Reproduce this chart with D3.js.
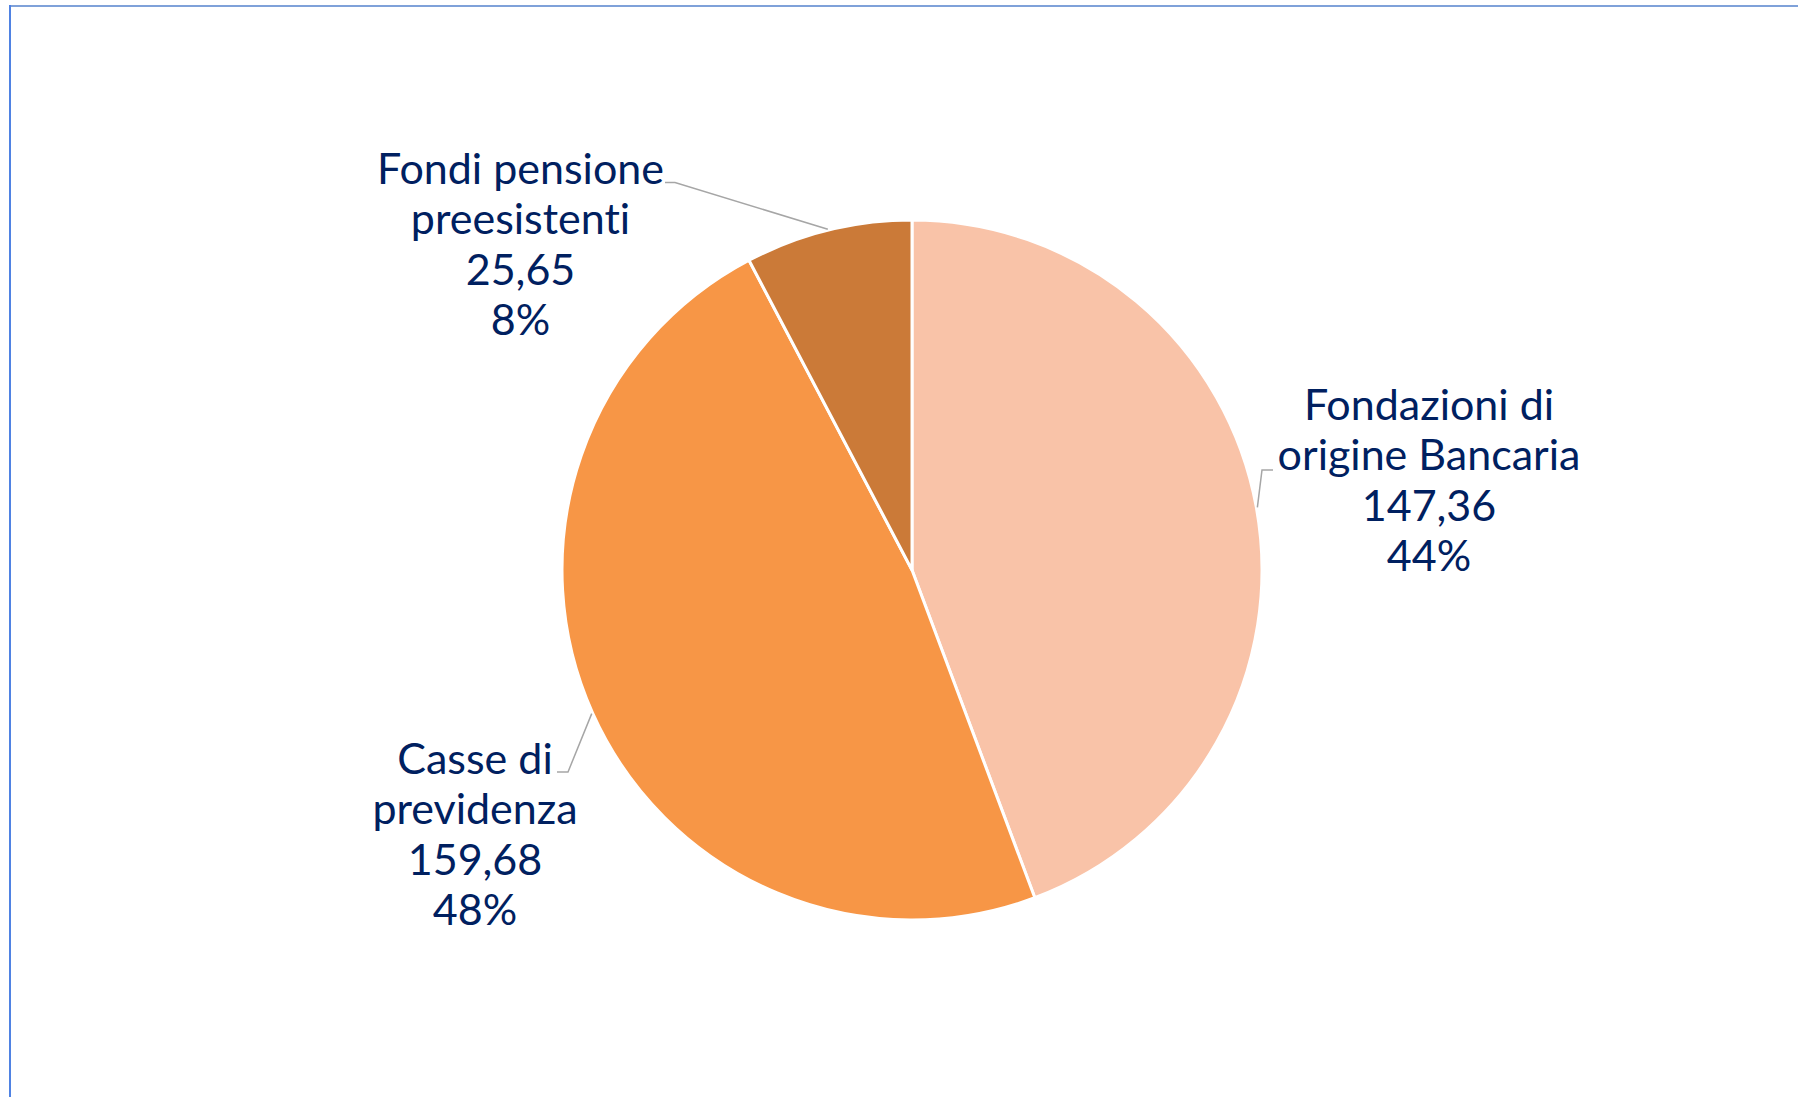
<!DOCTYPE html>
<html>
<head>
<meta charset="utf-8">
<script src="https://cdn.jsdelivr.net/npm/d3@7"></script>
<style>
  body { margin: 0; background: #fff; }
  svg { display: block; }
  .lbl { font-family: Lato, "Open Sans", sans-serif; font-size: 43px; fill: #002060; font-variant-ligatures: none; }
</style>
</head>
<body>
<svg id="chart" width="1798" height="1097"></svg>
<script>
// data
const categories = ["Fondazioni di origine Bancaria", "Casse di previdenza", "Fondi pensione preesistenti"];
const labelLines = [["Fondazioni di", "origine Bancaria"], ["Casse di", "previdenza"], ["Fondi pensione", "preesistenti"]];
const values = [147.36, 159.68, 25.65];
const colors = ["#f9c3a8", "#f79646", "#cb7a38"];

// label placement (layout only)
const labelLayout = [
    {cx: 1429, y0: 419.5, hx: [1273, 1262], hy: 470},
    {cx: 475, y0: 773.5, hx: [557, 568], hy: 772},
    {cx: 520.5, y0: 183.5, hx: [665, 675], hy: 182.5}
];

const width = 1798, height = 1097;
const cx = 912, cy = 570, radius = 350;
const lineGap = 50.5;

const svg = d3.select("#chart");

// frame lines
svg.append("line")
    .attr("x1", 9).attr("x2", width).attr("y1", 6).attr("y2", 6)
    .attr("stroke", "#7fa1d9").attr("stroke-width", 2);
svg.append("line")
    .attr("x1", 10).attr("x2", 10).attr("y1", 5).attr("y2", height)
    .attr("stroke", "#4f82e3").attr("stroke-width", 2);

const total = d3.sum(values);
const pie = d3.pie().sort(null).value(d => d)(values);
const arc = d3.arc().innerRadius(0).outerRadius(radius);

const g = svg.append("g").attr("transform", `translate(${cx},${cy})`);

g.selectAll("path")
    .data(pie)
    .enter().append("path")
    .attr("d", arc)
    .attr("fill", (d, i) => colors[i])
    .attr("stroke", "#fff")
    .attr("stroke-width", 3)
    .attr("stroke-linejoin", "round");

const fmt = v => v.toFixed(2).replace(".", ",");

pie.forEach((d, i) => {
    const lay = labelLayout[i];
    const mid = (d.startAngle + d.endAngle) / 2;
    const r = radius + 1;
    const px = cx + r * Math.sin(mid);
    const py = cy - r * Math.cos(mid);

    // leader line
    svg.append("polyline")
        .attr("points", [[lay.hx[0], lay.hy], [lay.hx[1], lay.hy], [px, py]].map(p => p.join(",")).join(" "))
        .attr("fill", "none")
        .attr("stroke", "#a6a6a6")
        .attr("stroke-width", 1.5);

    const lines = labelLines[i].concat([fmt(values[i]), Math.round(values[i] / total * 100) + "%"]);
    const text = svg.append("text")
        .attr("class", "lbl")
        .attr("text-anchor", "middle");
    lines.forEach((t, j) => {
        text.append("tspan")
            .attr("x", lay.cx)
            .attr("y", lay.y0 + j * lineGap)
            .text(t);
    });
});
</script>
</body>
</html>
